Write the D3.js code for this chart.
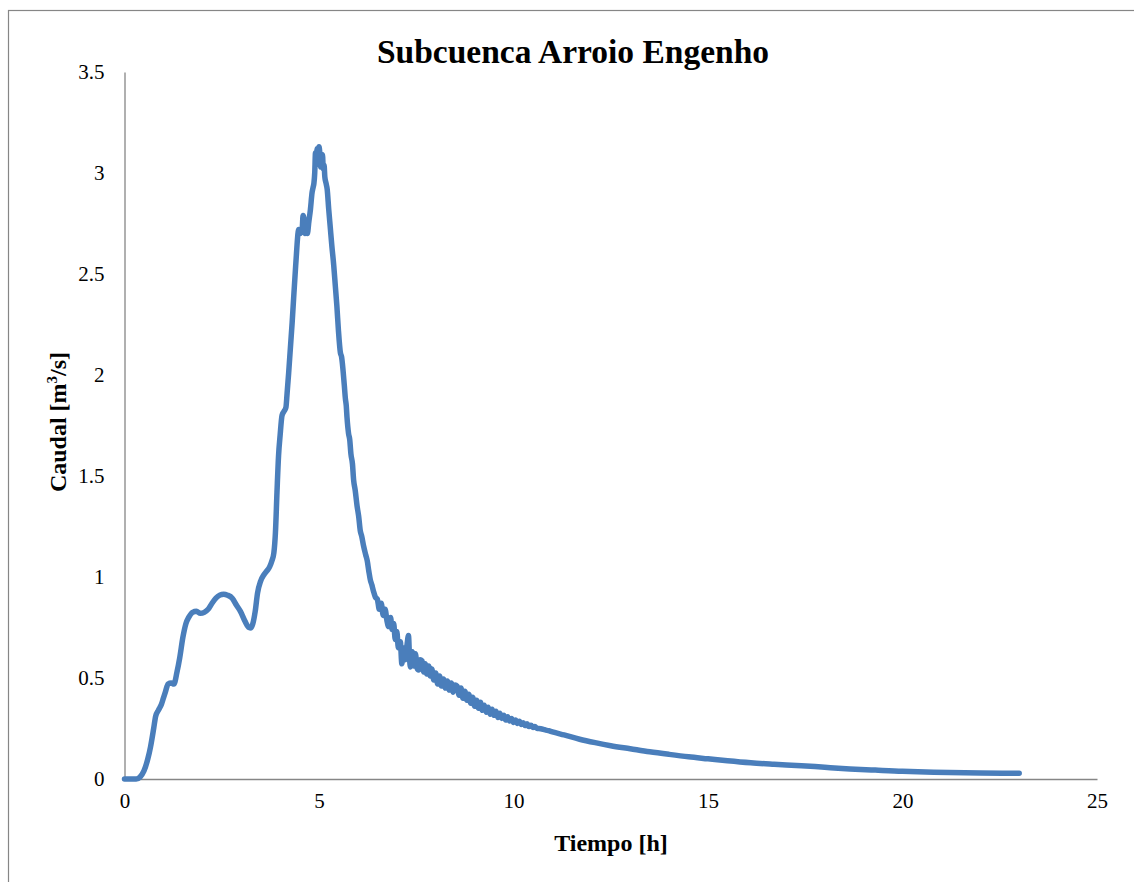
<!DOCTYPE html>
<html>
<head>
<meta charset="utf-8">
<script src="https://cdn.jsdelivr.net/npm/d3@7"></script>
<style>
  html, body { margin: 0; padding: 0; background: #fff; }
  svg { display: block; }
</style>
</head>
<body>
<svg id="chart" width="1134" height="882"></svg>
<script>
// ---- Data (time in hours, discharge in m3/s) ----
const titleText = "Subcuenca Arroio Engenho";
const xTitle = "Tiempo [h]";
const xTicks = [0, 5, 10, 15, 20, 25];
const yTicks = [0, 0.5, 1, 1.5, 2, 2.5, 3, 3.5];

const tiempo = [
  0, 0.3, 0.4, 0.5, 0.6, 0.67, 0.75, 0.8, 0.87, 0.95, 1.0, 1.05, 1.12, 1.2, 1.27, 1.35, 1.42, 1.5, 1.58, 1.65,
  1.75, 1.85, 1.95, 2.05, 2.15, 2.25, 2.35, 2.45, 2.55, 2.65, 2.77, 2.88, 2.98, 3.1, 3.2, 3.25, 3.3, 3.36, 3.42, 3.5,
  3.58, 3.66, 3.73, 3.79, 3.84, 3.88, 3.92, 3.96, 4.0, 4.05, 4.1, 4.15, 4.18, 4.22, 4.31, 4.4, 4.48, 4.52, 4.57, 4.59,
  4.61, 4.64, 4.67, 4.7, 4.74, 4.78, 4.82, 4.85, 4.87, 4.89, 4.91, 4.93, 4.95, 4.97, 5.0, 5.02, 5.04, 5.06, 5.09, 5.11,
  5.13, 5.15, 5.18, 5.21, 5.25, 5.29, 5.33, 5.38, 5.42, 5.46, 5.5, 5.55, 5.58, 5.61, 5.65, 5.68, 5.7, 5.72, 5.76, 5.79,
  5.82, 5.86, 5.89, 5.93, 5.98, 6.02, 6.06, 6.1, 6.15, 6.2, 6.24, 6.28, 6.32, 6.36, 6.4, 6.45, 6.5, 6.55, 6.6, 6.65,
  6.7, 6.75, 6.79, 6.84, 6.88, 6.92, 6.96, 7.0, 7.04, 7.09, 7.13, 7.17, 7.21, 7.26, 7.3, 7.33, 7.35, 7.4, 7.44, 7.48,
  7.52, 7.56, 7.6, 7.65, 7.69, 7.73, 7.77, 7.82, 7.86, 7.9, 7.95, 8.0, 8.05, 8.1, 8.15, 8.2, 8.25, 8.3, 8.35, 8.4,
  8.45, 8.5, 8.55, 8.6, 8.65, 8.7, 8.75, 8.8, 8.85, 8.9, 8.95, 9.0, 9.05, 9.1, 9.15, 9.2, 9.25, 9.3, 9.35, 9.4,
  9.45, 9.5, 9.55, 9.6, 9.65, 9.7, 9.75, 9.8, 9.85, 9.9, 9.95, 10.0, 10.05, 10.1, 10.15, 10.2, 10.25, 10.3, 10.35, 10.4,
  10.45, 10.5, 10.55, 10.6, 10.7, 10.8, 10.9, 11.0, 11.3, 11.7, 12.1, 12.5, 13.0, 13.5, 14.0, 14.5, 15.0, 15.5, 16.1, 16.7,
  17.4, 18.0, 18.65, 19.3, 20.0, 20.6, 21.2, 22.0, 23.0
];
const caudal = [
  0, 0, 0.01, 0.04, 0.1, 0.16, 0.25, 0.31, 0.34, 0.37, 0.4, 0.43, 0.47, 0.475, 0.47, 0.53, 0.6, 0.7, 0.77, 0.8,
  0.825, 0.83, 0.82, 0.825, 0.84, 0.87, 0.895, 0.91, 0.915, 0.91, 0.895, 0.86, 0.83, 0.78, 0.75, 0.748, 0.77, 0.83, 0.92, 0.98,
  1.01, 1.03, 1.05, 1.08, 1.12, 1.22, 1.42, 1.6, 1.7, 1.8, 1.82, 1.84, 1.91, 2.01, 2.26, 2.54, 2.72, 2.7, 2.73, 2.79,
  2.78, 2.7, 2.72, 2.7, 2.76, 2.82, 2.9, 2.93, 2.95, 3.0, 3.1, 3.04, 3.12, 3.08, 3.13, 3.1, 3.03, 3.06, 3.09, 3.02,
  3.04, 2.98, 2.95, 2.92, 2.82, 2.73, 2.64, 2.54, 2.44, 2.34, 2.22, 2.11, 2.09, 2.04, 1.95, 1.88, 1.85, 1.79, 1.71, 1.68,
  1.61, 1.56, 1.48, 1.43, 1.35, 1.3, 1.23, 1.2, 1.15, 1.11, 1.08, 1.03, 0.985, 0.96, 0.93, 0.9, 0.89, 0.84, 0.87, 0.81,
  0.84, 0.78, 0.755, 0.8, 0.74, 0.77, 0.69, 0.73, 0.65, 0.68, 0.57, 0.65, 0.59, 0.66, 0.71, 0.59, 0.555, 0.63, 0.56, 0.62,
  0.55, 0.54, 0.59, 0.585, 0.53, 0.57, 0.52, 0.56, 0.51, 0.545, 0.49, 0.525, 0.47, 0.51, 0.46, 0.495, 0.45, 0.485, 0.44, 0.475,
  0.43, 0.465, 0.46, 0.415, 0.45, 0.4, 0.435, 0.39, 0.42, 0.375, 0.405, 0.36, 0.39, 0.35, 0.38, 0.34, 0.365, 0.33, 0.355, 0.32,
  0.345, 0.315, 0.335, 0.305, 0.325, 0.3, 0.315, 0.292, 0.308, 0.287, 0.3, 0.28, 0.292, 0.275, 0.286, 0.27, 0.279, 0.265, 0.273, 0.26,
  0.266, 0.255, 0.26, 0.251, 0.249, 0.244, 0.239, 0.233, 0.218, 0.197, 0.18, 0.165, 0.15, 0.135, 0.122, 0.11, 0.1, 0.09, 0.08, 0.073,
  0.066, 0.058, 0.05, 0.044, 0.038, 0.035, 0.032, 0.03, 0.028
];

const data = tiempo.map((t, i) => ({ t, q: caudal[i] }));

// ---- Layout ----
const svg = d3.select("#chart");
const FONT = "'Liberation Serif', 'DejaVu Serif', serif";
const AXIS_COLOR = "#868686";
const LINE_COLOR = "#4a7ebb";

const x = d3.scaleLinear().domain([0, 25]).range([124.5, 1097]);
const y = d3.scaleLinear().domain([0, 3.5]).range([779, 72]);

// outer frame (chart area border, cut at the right/bottom)
svg.append("rect")
  .attr("x", 8.5).attr("y", 10.5)
  .attr("width", 1300).attr("height", 1000)
  .attr("fill", "none").attr("stroke", AXIS_COLOR).attr("stroke-width", 1.2);

// title
svg.append("text")
  .attr("x", 573).attr("y", 63)
  .attr("text-anchor", "middle")
  .attr("font-family", FONT).attr("font-weight", "bold").attr("font-size", 33.5)
  .attr("fill", "#000")
  .text(titleText);

// axes
const xAxis = d3.axisBottom(x).tickValues(xTicks).tickSize(0).tickPadding(14).tickFormat(d3.format("d"));
const yAxis = d3.axisLeft(y).tickValues(yTicks).tickSize(0).tickPadding(20).tickFormat(d => String(d));

const gx = svg.append("g").attr("transform", `translate(0,${y(0)})`).call(xAxis);
const gy = svg.append("g").attr("transform", `translate(${x(0)},0)`).call(yAxis);

[gx, gy].forEach(g => {
  g.select(".domain").attr("stroke", AXIS_COLOR).attr("stroke-width", 1.3);
  g.selectAll("text").attr("font-family", FONT).attr("font-size", 21).attr("fill", "#000");
});

// axis titles
svg.append("text")
  .attr("x", 611).attr("y", 851)
  .attr("text-anchor", "middle")
  .attr("font-family", FONT).attr("font-weight", "bold").attr("font-size", 24)
  .text(xTitle);

const yt = svg.append("text")
  .attr("transform", "translate(66,422) rotate(-90)")
  .attr("text-anchor", "middle")
  .attr("font-family", FONT).attr("font-weight", "bold").attr("font-size", 24);
yt.append("tspan").text("Caudal [m");
yt.append("tspan").attr("font-size", 15).attr("dy", -9).text("3");
yt.append("tspan").attr("dy", 9).text("/s]");

// line
const line = d3.line()
  .x(d => x(d.t))
  .y(d => y(d.q))
  .curve(d3.curveMonotoneX);

svg.append("path")
  .datum(data)
  .attr("d", line)
  .attr("fill", "none")
  .attr("stroke", LINE_COLOR)
  .attr("stroke-width", 5.5)
  .attr("stroke-linejoin", "round")
  .attr("stroke-linecap", "round");
</script>
</body>
</html>
